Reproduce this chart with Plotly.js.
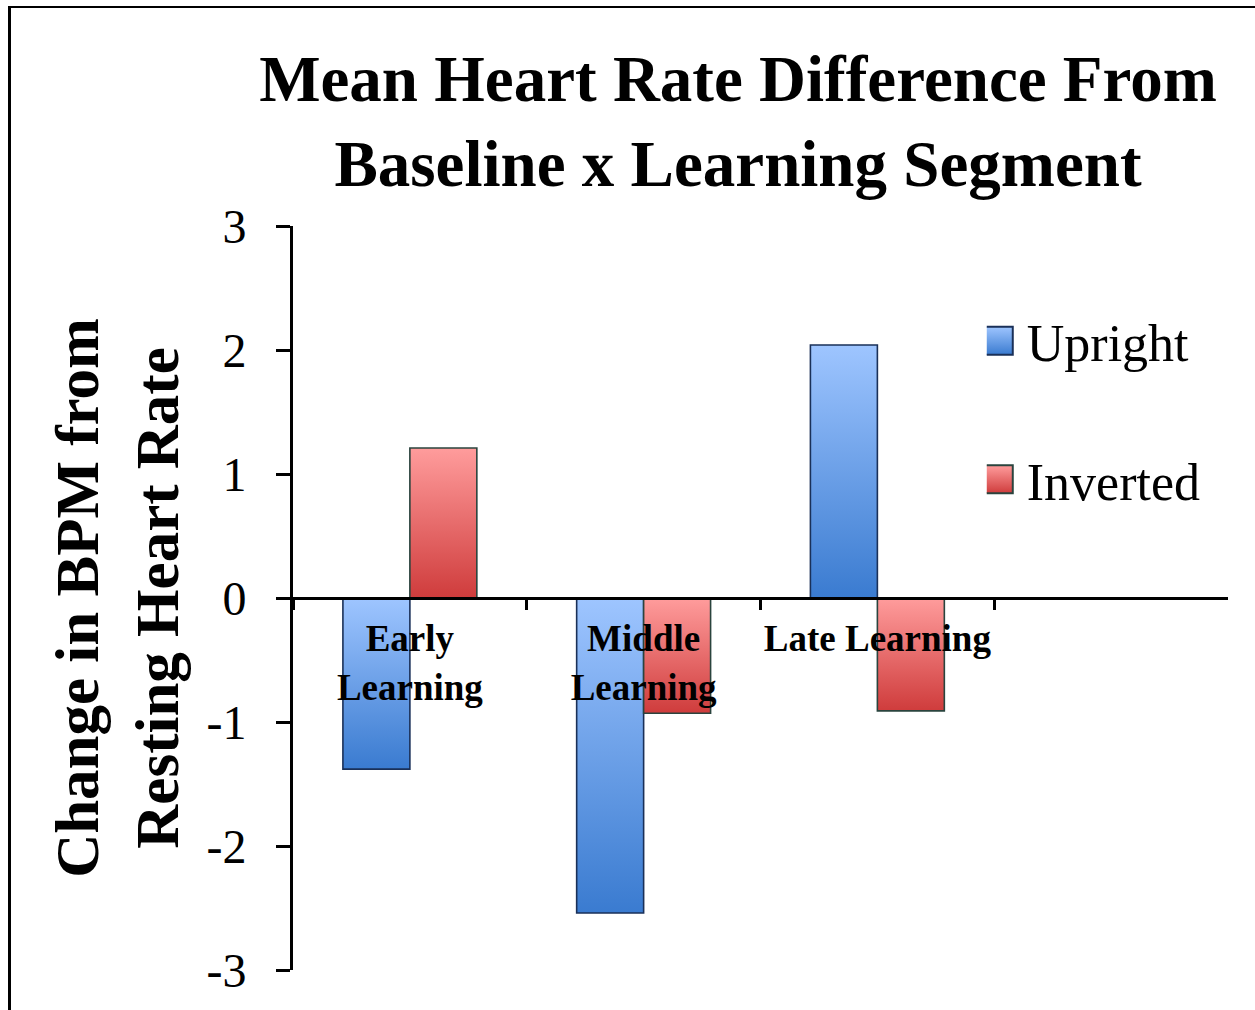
<!DOCTYPE html>
<html><head><meta charset="utf-8">
<script src="https://cdn.plot.ly/plotly-3.0.1.min.js"></script>
<style>
html,body{margin:0;padding:0;background:#fff;overflow:hidden}
#frame{position:absolute;left:8px;top:6px;width:1400px;height:1200px;border-top:2px solid #000;border-left:3px solid #000;pointer-events:none}
</style>
</head><body>
<div id="chart" style="width:1255px;height:1010px"></div>
<div id="frame"></div>
<script>
const categories = ['Early<br>Learning', 'Middle<br>Learning', 'Late Learning'];
const seriesNames = ['Upright', 'Inverted'];
const uprightValues = [-1.38, -2.54, 2.04];
const invertedValues = [1.21, -0.93, -0.91];
const yTickValues = [-3, -2, -1, 0, 1, 2, 3];

const serif = 'Liberation Serif, Times New Roman, serif';

const traces = [
  {type: 'bar', name: seriesNames[0], x: categories, y: uprightValues, legendgroup: 'a',
   marker: {color: '#6a9ee8', line: {color: '#1a3058', width: 1.6}}, hoverinfo: 'skip'},
  {type: 'bar', name: seriesNames[1], x: categories, y: invertedValues, legendgroup: 'b',
   marker: {color: '#e67272', line: {color: '#2a443e', width: 1.6}}, hoverinfo: 'skip'}
];

const layout = {
  width: 1255, height: 1010,
  margin: {l: 293, r: 27, t: 226, b: 40},
  paper_bgcolor: '#fff', plot_bgcolor: '#fff',
  barmode: 'group', bargap: 0.427, bargroupgap: 0,
  title: {text: 'Mean Heart Rate Difference From<br>Baseline x Learning Segment',
          font: {family: serif, size: 65, color: '#000', weight: 'bold'},
          xref: 'container', x: 738 / 1255, xanchor: 'center',
          yref: 'container', y: 0.9, yanchor: 'top'},
  xaxis: {type: 'category', range: [-0.5, 3.5], anchor: 'free', position: 0.5,
          showline: true, linecolor: '#000', linewidth: 3,
          ticks: 'outside', tickson: 'boundaries', ticklen: 10, tickwidth: 3, tickcolor: '#000',
          showgrid: false, zeroline: false, ticklabelstandoff: 7, tickangle: 0,
          tickfont: {family: serif, size: 37, color: '#000', weight: 'bold'}},
  yaxis: {range: [-3, 3], tickvals: yTickValues, ticktext: yTickValues.map(String),
          showline: true, linecolor: '#000', linewidth: 3,
          ticks: 'outside', ticklen: 14, tickwidth: 3, tickcolor: '#000',
          showgrid: false, zeroline: false, ticklabelstandoff: 20,
          tickfont: {family: serif, size: 48, color: '#000'},
          title: {text: 'Change in BPM from<br>Resting Heart Rate',
                  font: {family: serif, size: 61, color: '#000', weight: 'bold'}, standoff: 9}},
  showlegend: true,
  legend: {x: 0.742, xanchor: 'left', y: 0.9, yanchor: 'top',
           font: {family: serif, size: 52, color: '#000'},
           tracegroupgap: 68, bgcolor: 'rgba(0,0,0,0)'},
};

Plotly.newPlot('chart', traces, layout, {staticPlot: true}).then(function (gd) {
  const svg = gd.querySelector('svg.main-svg');
  const ns = 'http://www.w3.org/2000/svg';
  let defs = svg.querySelector('defs');
  if (!defs) { defs = document.createElementNS(ns, 'defs'); svg.insertBefore(defs, svg.firstChild); }
  function grad(id, top, bottom) {
    const g = document.createElementNS(ns, 'linearGradient');
    g.setAttribute('id', id); g.setAttribute('x1', '0'); g.setAttribute('y1', '0');
    g.setAttribute('x2', '0'); g.setAttribute('y2', '1');
    [[0, top], [1, bottom]].forEach(function (s) {
      const st = document.createElementNS(ns, 'stop');
      st.setAttribute('offset', s[0]); st.setAttribute('stop-color', s[1]);
      g.appendChild(st);
    });
    defs.appendChild(g);
  }
  grad('gradBlue', '#9ec5ff', '#3a7bd0');
  grad('gradRed', '#ff9c9c', '#cf3c3c');
  const ids = ['gradBlue', 'gradRed'];
  gd.querySelectorAll('.barlayer .trace').forEach(function (t, i) {
    t.querySelectorAll('path').forEach(function (p) { p.style.fill = 'url(#' + ids[i] + ')'; });
  });
  gd.querySelectorAll('.legend .traces').forEach(function (t, i) {
    t.querySelectorAll('.legendpoints path').forEach(function (p) {
      p.style.fill = 'url(#' + ids[i] + ')';
      p.style.strokeWidth = '2px';
      p.setAttribute('d', 'M6,14H-22V-14H6Z');
    });
  });
});
</script>
</body></html>
